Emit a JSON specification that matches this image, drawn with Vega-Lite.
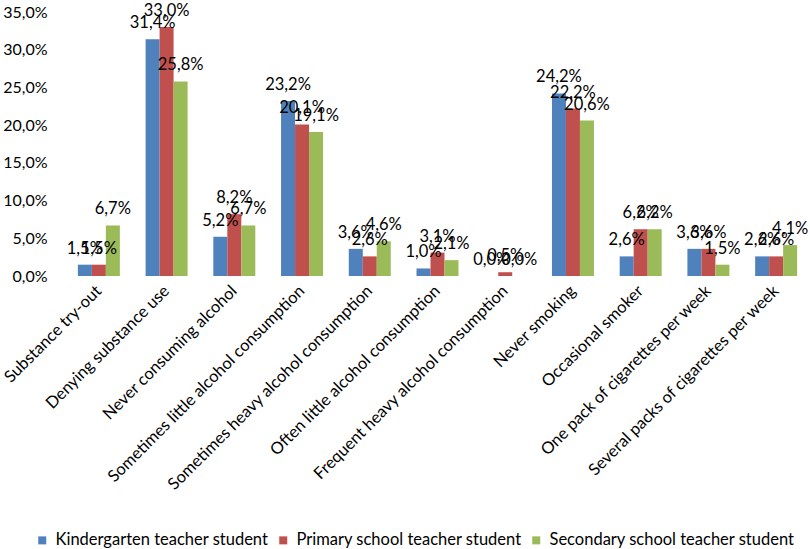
{
  "$schema": "https://vega.github.io/schema/vega-lite/v6.json",
  "autosize": "none",
  "width": 745,
  "height": 264,
  "padding": {"left": 65, "top": 12, "right": 0, "bottom": 273},
  "background": "white",
  "data": {
    "values": [
      {"cat": "Substance try-out", "group": "Kindergarten teacher student", "value": 0.015},
      {"cat": "Substance try-out", "group": "Primary school teacher student", "value": 0.015},
      {"cat": "Substance try-out", "group": "Secondary school teacher student", "value": 0.067},
      {"cat": "Denying substance use", "group": "Kindergarten teacher student", "value": 0.314},
      {"cat": "Denying substance use", "group": "Primary school teacher student", "value": 0.330},
      {"cat": "Denying substance use", "group": "Secondary school teacher student", "value": 0.258},
      {"cat": "Never consuming alcohol", "group": "Kindergarten teacher student", "value": 0.052},
      {"cat": "Never consuming alcohol", "group": "Primary school teacher student", "value": 0.082},
      {"cat": "Never consuming alcohol", "group": "Secondary school teacher student", "value": 0.067},
      {"cat": "Sometimes little alcohol consumption", "group": "Kindergarten teacher student", "value": 0.232},
      {"cat": "Sometimes little alcohol consumption", "group": "Primary school teacher student", "value": 0.201},
      {"cat": "Sometimes little alcohol consumption", "group": "Secondary school teacher student", "value": 0.191},
      {"cat": "Sometimes heavy alcohol consumption", "group": "Kindergarten teacher student", "value": 0.036},
      {"cat": "Sometimes heavy alcohol consumption", "group": "Primary school teacher student", "value": 0.026},
      {"cat": "Sometimes heavy alcohol consumption", "group": "Secondary school teacher student", "value": 0.046},
      {"cat": "Often little alcohol consumption", "group": "Kindergarten teacher student", "value": 0.010},
      {"cat": "Often little alcohol consumption", "group": "Primary school teacher student", "value": 0.031},
      {"cat": "Often little alcohol consumption", "group": "Secondary school teacher student", "value": 0.021},
      {"cat": "Frequent heavy alcohol consumption", "group": "Kindergarten teacher student", "value": 0.0},
      {"cat": "Frequent heavy alcohol consumption", "group": "Primary school teacher student", "value": 0.005},
      {"cat": "Frequent heavy alcohol consumption", "group": "Secondary school teacher student", "value": 0.0},
      {"cat": "Never smoking", "group": "Kindergarten teacher student", "value": 0.242},
      {"cat": "Never smoking", "group": "Primary school teacher student", "value": 0.222},
      {"cat": "Never smoking", "group": "Secondary school teacher student", "value": 0.206},
      {"cat": "Occasional smoker", "group": "Kindergarten teacher student", "value": 0.026},
      {"cat": "Occasional smoker", "group": "Primary school teacher student", "value": 0.062},
      {"cat": "Occasional smoker", "group": "Secondary school teacher student", "value": 0.062},
      {"cat": "One pack of cigarettes per week", "group": "Kindergarten teacher student", "value": 0.036},
      {"cat": "One pack of cigarettes per week", "group": "Primary school teacher student", "value": 0.036},
      {"cat": "One pack of cigarettes per week", "group": "Secondary school teacher student", "value": 0.015},
      {"cat": "Several packs of cigarettes per week", "group": "Kindergarten teacher student", "value": 0.026},
      {"cat": "Several packs of cigarettes per week", "group": "Primary school teacher student", "value": 0.026},
      {"cat": "Several packs of cigarettes per week", "group": "Secondary school teacher student", "value": 0.041}
    ]
  },
  "encoding": {
    "x": {
      "field": "cat",
      "type": "nominal",
      "sort": null,
      "title": null,
      "scale": {"paddingInner": 0.38, "paddingOuter": 0.19},
      "axis": {
        "labelAngle": -45,
        "labelAlign": "right",
        "labelBaseline": "middle",
        "labelPadding": 12,
        "ticks": false,
        "domain": false,
        "labelFontSize": 16.5,
        "labelFont": "Lato",
        "labelColor": "#000000",
        "labelLimit": 400
      }
    },
    "xOffset": {
      "field": "group",
      "type": "nominal",
      "sort": ["Kindergarten teacher student", "Primary school teacher student", "Secondary school teacher student"]
    },
    "y": {
      "field": "value",
      "type": "quantitative",
      "title": null,
      "scale": {"domain": [0, 0.35], "nice": false},
      "axis": {
        "values": [0, 0.05, 0.1, 0.15, 0.2, 0.25, 0.3, 0.35],
        "format": ".1%",
        "grid": false,
        "ticks": false,
        "domain": false,
        "labelPadding": 18,
        "labelFontSize": 16,
        "labelFont": "Lato",
        "labelColor": "#000000"
      }
    }
  },
  "layer": [
    {
      "mark": {"type": "bar"},
      "encoding": {
        "color": {
          "field": "group",
          "type": "nominal",
          "sort": ["Kindergarten teacher student", "Primary school teacher student", "Secondary school teacher student"],
          "scale": {
            "domain": ["Kindergarten teacher student", "Primary school teacher student", "Secondary school teacher student"],
            "range": ["#4F81BD", "#C0504D", "#9BBB59"]
          },
          "legend": {
            "title": null,
            "orient": "none",
            "direction": "horizontal",
            "legendX": -31,
            "legendY": 520,
            "symbolType": "square",
            "symbolSize": 64,
            "symbolStrokeWidth": 0,
            "labelFontSize": 16.5,
            "labelFont": "Lato",
            "labelColor": "#000000",
            "labelLimit": 300,
            "columnPadding": 6,
            "labelOffset": 5
          }
        }
      }
    },
    {
      "mark": {"type": "text", "baseline": "alphabetic", "dy": -11, "fontSize": 16.5, "font": "Lato", "color": "#000000"},
      "encoding": {
        "text": {"field": "value", "type": "quantitative", "format": ".1%"}
      }
    }
  ],
  "config": {
    "view": {"stroke": null},
    "locale": {
      "number": {"decimal": ",", "thousands": ".", "grouping": [3], "currency": ["", " €"]}
    }
  }
}
